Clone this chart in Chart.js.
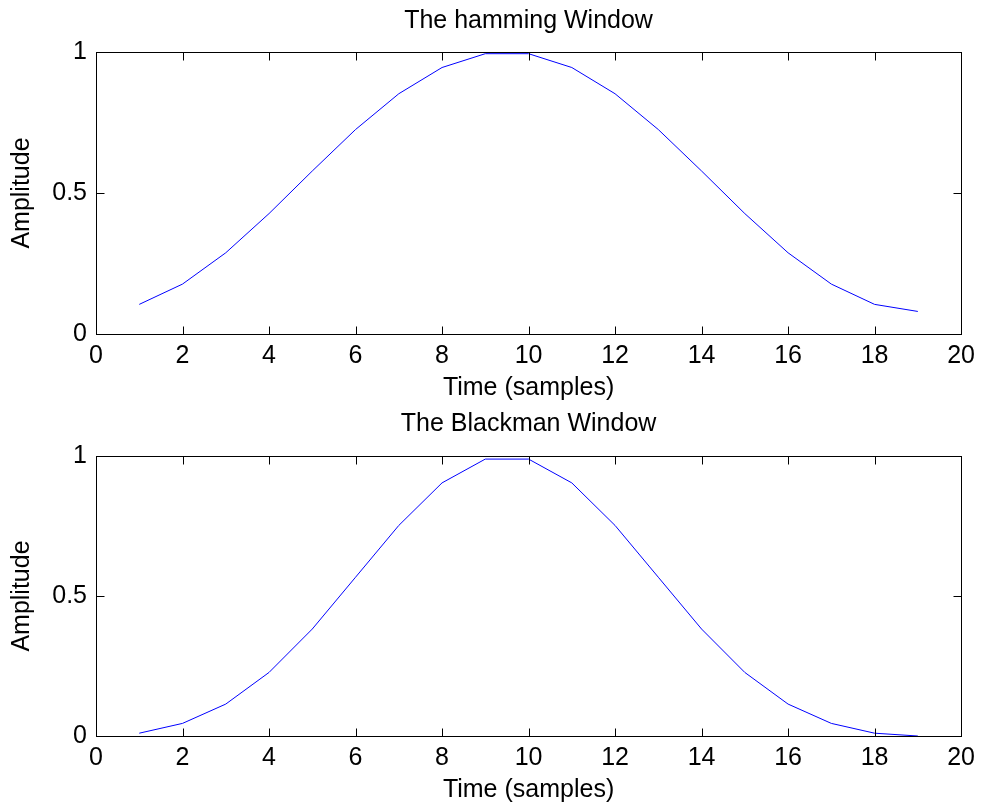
<!DOCTYPE html>
<html>
<head>
<meta charset="utf-8">
<script src="https://cdn.jsdelivr.net/npm/chart.js@4/dist/chart.umd.min.js"></script>
<style>
  body { margin: 0; background: #fff; }
  #wrap { position: relative; width: 982px; height: 810px; }
  canvas { position: absolute; left: 0; }
</style>
</head>
<body>
<div id="wrap">
  <canvas id="hammingChart" width="982" height="404" style="top:0"></canvas>
  <canvas id="blackmanChart" width="982" height="406" style="top:404px"></canvas>
</div>
<script>
const samples = [1, 2, 3, 4, 5, 6, 7, 8, 9, 10, 11, 12, 13, 14, 15, 16, 17, 18, 19];
const hamming = [0.105, 0.177, 0.288, 0.427, 0.578, 0.725, 0.852, 0.945, 0.994, 0.994,
                 0.945, 0.852, 0.725, 0.578, 0.427, 0.288, 0.177, 0.105, 0.08];
const blackman = [0.010, 0.045, 0.114, 0.227, 0.382, 0.567, 0.752, 0.904, 0.989, 0.989,
                  0.904, 0.752, 0.567, 0.382, 0.227, 0.114, 0.045, 0.010, 0];
const xTicks = [0, 20, 2];   // min, max, step
const yTicks = [0, 1, 0.5];
const yTickLabels = ['0', '0.5', '1'];

const FONT = "'Liberation Sans', Arial, Helvetica, sans-serif";
const FS = 25;
const LH = FS * 1.2;

Chart.defaults.font.family = FONT;
Chart.defaults.font.size = FS;
Chart.defaults.color = '#000';

// matlab style box with inward ticks on all four sides
const boxPlugin = {
  id: 'matlabBox',
  afterDatasetsDraw(chart) {
    const { ctx, chartArea: a, scales } = chart;
    const snap = (v) => Math.round(v) + 0.5;
    const L = snap(a.left), R = snap(a.right);
    const T = snap(a.top), B = snap(a.bottom);
    const tick = 8;
    ctx.save();
    ctx.strokeStyle = '#000';
    ctx.lineWidth = 1;
    ctx.beginPath();
    scales.x.ticks.forEach(t => {
      const px = snap(scales.x.getPixelForValue(t.value));
      ctx.moveTo(px, B); ctx.lineTo(px, B - tick);
      ctx.moveTo(px, T); ctx.lineTo(px, T + tick);
    });
    scales.y.ticks.forEach(t => {
      const py = snap(scales.y.getPixelForValue(t.value));
      ctx.moveTo(L, py); ctx.lineTo(L + tick, py);
      ctx.moveTo(R, py); ctx.lineTo(R - tick, py);
    });
    ctx.stroke();
    ctx.strokeRect(L, T, R - L, B - T);
    ctx.restore();
  }
};

function makeChart(canvas, title, values, g) {
  const h = canvas.height;
  return new Chart(canvas, {
    type: 'line',
    data: {
      datasets: [{
        data: samples.map((s, i) => ({ x: s, y: values[i] })),
        borderColor: '#0000ff',
        borderWidth: 1,
        pointRadius: 0,
        tension: 0,
        fill: false,
      }],
    },
    options: {
      responsive: false,
      animation: false,
      devicePixelRatio: 1,
      layout: { padding: { left: 0, right: 18, top: 0, bottom: 0 } },
      plugins: {
        legend: { display: false },
        tooltip: { enabled: false },
        title: {
          display: true,
          text: title,
          fullSize: false,
          font: { size: FS, weight: 'normal' },
          padding: { top: g.titleMid - LH / 2, bottom: g.top - (g.titleMid - LH / 2) - LH },
        },
      },
      scales: {
        x: {
          type: 'linear',
          min: xTicks[0],
          max: xTicks[1],
          grid: { display: false, drawTicks: false },
          border: { display: false },
          ticks: { stepSize: xTicks[2], padding: 7, maxRotation: 0 },
          title: { display: true, text: 'Time (samples)', padding: { top: 0, bottom: h - g.xTitleMid - LH / 2 } },
          afterFit: (s) => { s.height = h - g.bottom; },
        },
        y: {
          min: yTicks[0],
          max: yTicks[1],
          grid: { display: false, drawTicks: false },
          border: { display: false },
          ticks: {
            stepSize: yTicks[2],
            padding: 9,
            callback: (v) => yTickLabels[Math.round(v / yTicks[2])],
          },
          title: { display: true, text: 'Amplitude', padding: { top: 7, bottom: 0 } },
          afterFit: (s) => { s.width = 96; },
        },
      },
    },
    plugins: [boxPlugin],
  });
}

makeChart(document.getElementById('hammingChart'), 'The hamming Window', hamming,
  { top: 52, bottom: 334, titleMid: 21.5, xTitleMid: 388.5 });
makeChart(document.getElementById('blackmanChart'), 'The Blackman Window', blackman,
  { top: 52, bottom: 332, titleMid: 20.5, xTitleMid: 386 });
</script>
</body>
</html>
